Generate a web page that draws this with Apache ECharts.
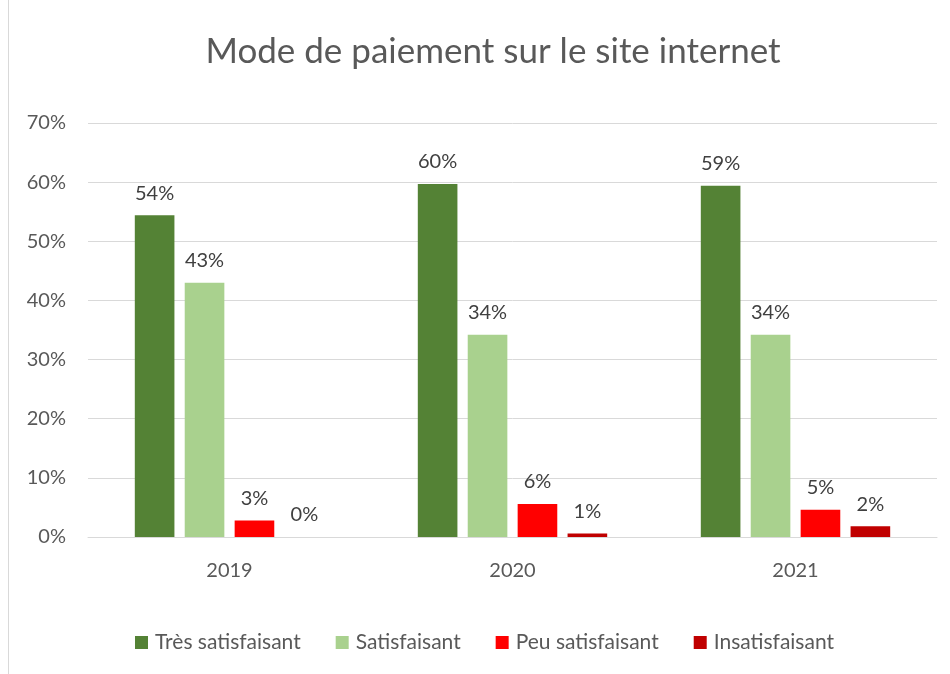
<!DOCTYPE html>
<html>
<head>
<meta charset="utf-8">
<script src="https://cdn.jsdelivr.net/npm/echarts@6/dist/echarts.min.js"></script>
<style>
  html, body { margin: 0; padding: 0; background: #fff; }
  #chart { width: 950px; height: 674px; }
</style>
</head>
<body>
<div id="chart"></div>
<script>
// donnees
var annees = ['2019', '2020', '2021'];
var tresSatisfaisant = [54.4, 59.7, 59.4];
var satisfaisant = [43.0, 34.2, 34.2];
var peuSatisfaisant = [2.8, 5.6, 4.6];
var insatisfaisant = [0, 0.6, 1.8];
var graduations = [0, 10, 20, 30, 40, 50, 60, 70];

var police = 'Lato, "Open Sans", sans-serif';

function serie(nom, valeurs, couleur) {
  return {
    name: nom,
    type: 'bar',
    data: valeurs,
    barWidth: '14%',
    barGap: '26%',
    itemStyle: { color: couleur },
    label: {
      show: true,
      position: 'top',
      distance: 12,
      color: '#404040',
      fontSize: 20,
      fontFamily: police,
      formatter: function (p) { return Math.round(p.value) + '%'; }
    }
  };
}

var chart = echarts.init(document.getElementById('chart'));
var option = {
  backgroundColor: '#fff',
  animation: false,
  graphic: [{
    type: 'rect',
    shape: { x: 8.5, y: -2, width: 960, height: 700 },
    style: { fill: 'none', stroke: '#d9d9d9', lineWidth: 1 },
    silent: true
  }],
  title: {
    text: 'Mode de paiement sur le site internet',
    left: 488,
    textAlign: 'center',
    top: 29,
    textStyle: { color: '#595959', fontSize: 35, fontWeight: 'normal', fontFamily: police }
  },
  legend: {
    bottom: 16,
    left: 130,
    itemWidth: 13,
    itemHeight: 13,
    itemGap: 35,
    icon: 'rect',
    textStyle: { color: '#595959', fontSize: 21, fontFamily: police, padding: [0, 0, 0, 2] },
    data: ['Très satisfaisant', 'Satisfaisant', 'Peu satisfaisant', 'Insatisfaisant']
  },
  grid: { left: 88, right: 13, top: 123, bottom: 137 },
  xAxis: {
    type: 'category',
    data: annees,
    axisLine: { lineStyle: { color: '#d9d9d9', width: 1 } },
    axisTick: { show: false },
    axisLabel: { color: '#595959', fontSize: 20, fontFamily: police, margin: 24 }
  },
  yAxis: {
    type: 'value',
    min: 0,
    max: 70,
    interval: 10,
    axisLine: { show: false },
    axisTick: { show: false },
    splitLine: { lineStyle: { color: '#d9d9d9', width: 1 } },
    axisLabel: {
      color: '#595959',
      fontSize: 20,
      fontFamily: police,
      margin: 22,
      formatter: function (v) { return graduations.indexOf(v) >= 0 ? v + '%' : ''; }
    }
  },
  series: [
    serie('Très satisfaisant', tresSatisfaisant, '#548235'),
    serie('Satisfaisant', satisfaisant, '#A9D18E'),
    serie('Peu satisfaisant', peuSatisfaisant, '#FF0000'),
    serie('Insatisfaisant', insatisfaisant, '#C00000')
  ]
};
chart.setOption(option);
</script>
</body>
</html>
